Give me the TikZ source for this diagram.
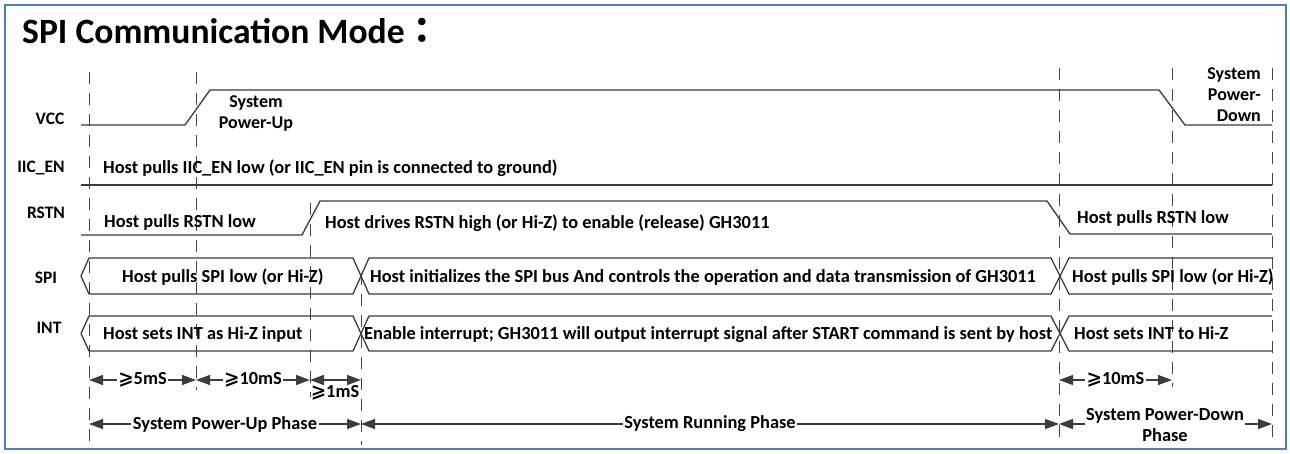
\documentclass[tikz,border=0pt]{standalone}
\usepackage{fontspec}
\setmainfont{Carlito}
\newfontfamily\cjkfont{Noto Sans CJK TC}
\newfontfamily\symfont{DejaVu Sans}
\usetikzlibrary{arrows.meta}
\definecolor{frameblue}{RGB}{79,129,189}
\definecolor{ink}{RGB}{60,60,60}
\definecolor{guidegray}{RGB}{70,70,70}
\newcommand{\atleast}{{\symfont\bfseries ⩾}}

\begin{document}
\begin{tikzpicture}[x=1pt,y=-1pt,
  wave/.style={draw=ink, line width=1.3pt, line join=miter},
  guideline/.style={draw=guidegray, line width=0.9pt, dash pattern=on 12pt off 9pt},
  sig/.style={font=\bfseries\fontsize{17.5}{20}\selectfont, inner sep=0pt, anchor=base},
  note/.style={font=\bfseries\fontsize{18.4}{20}\selectfont, inner sep=0pt, anchor=base west},
  span/.style={draw=ink, line width=1.3pt, {Triangle[length=14pt,width=10pt]}-{Triangle[length=14pt,width=10pt]}},
  spanlbl/.style={font=\bfseries\fontsize{18.4}{21}\selectfont, fill=white, inner sep=1.5pt},
  event/.style={font=\bfseries\fontsize{18}{21}\selectfont, inner sep=0pt},
]
% canvas and frame
\path[use as bounding box, fill=white] (0,0) rectangle (1290,453);
\draw[draw=frameblue, line width=2.2pt] (5,5) rectangle (1286,449);

\node[anchor=base west, inner sep=0pt, font=\bfseries\fontsize{35.6}{38}\selectfont] (title) at (22,43)
  {SPI Communication Mode{\cjkfont\bfseries ：}};

% time markers
\coordinate (g1t) at (89,72);   \coordinate (g1b) at (89,445);
\coordinate (g2t) at (196,72);  \coordinate (g2b) at (196,390);
\coordinate (g3t) at (310,203); \coordinate (g3b) at (310,397);
\coordinate (g4t) at (361,273); \coordinate (g4b) at (361,445);
\coordinate (g5t) at (1059,68); \coordinate (g5b) at (1059,445);
\coordinate (g6t) at (1172,68); \coordinate (g6b) at (1172,387);
\coordinate (g7t) at (1272,68); \coordinate (g7b) at (1272,445);
\foreach \g in {1,...,7} \draw[guideline] (g\g t) -- (g\g b);

% signal names
\node[sig] (vcc)   at (50,124) {VCC};
\node[sig] (iicen) at (41,172) {IIC\_EN};
\node[sig] (rstn)  at (46,218) {RSTN};
\node[sig] (spi)   at (46,283) {SPI};
\node[sig] (int)   at (49,333) {INT};

% VCC
\draw[wave] (81,125) -- (185,125) -- (210,90) -- (1159,90) -- (1185,125) -- (1272,125);
\node[event, align=center] (pwrup) at (256,114) {System\\Power-Up};
\node[event, align=right, anchor=east] (pwrdn) at (1261,95) {System\\Power-\\Down};

% IIC_EN
\draw[wave] (81,185) -- (1272,185);
\node[note] (iictxt) at (103,173) {Host pulls IIC\_EN low (or IIC\_EN pin is connected to ground)};

% RSTN
\draw[wave] (81,235) -- (302,235) -- (320,201) -- (1047,201) -- (1070,234) -- (1272,234);
\node[note] (rst1) at (104,227) {Host pulls RSTN low};
\node[note] (rst2) at (325,228) {Host drives RSTN high (or Hi-Z) to enable (release) GH3011};
\node[note] (rst3) at (1077,223) {Host pulls RSTN low};

% SPI bus
\draw[wave] (81,276) -- (89,258) -- (353,258) -- (369,294) -- (1051,294) -- (1069,258) -- (1272,258);
\draw[wave] (81,276) -- (89,294) -- (353,294) -- (369,258) -- (1051,258) -- (1069,294) -- (1272,294);
\node[note] (spi1) at (122,282) {Host pulls SPI low (or Hi-Z)};
\node[note] (spi2) at (370,282) {Host initializes the SPI bus And controls the operation and data transmission of GH3011};
\node[note] (spi3) at (1072,282) {Host pulls SPI low (or Hi-Z)};

% INT bus
\draw[wave] (81,333.5) -- (89,316) -- (353,316) -- (369,351) -- (1051,351) -- (1069,316) -- (1272,316);
\draw[wave] (81,333.5) -- (89,351) -- (353,351) -- (369,316) -- (1051,316) -- (1069,351) -- (1272,351);
\node[note] (int1) at (103,339) {Host sets INT as Hi-Z input};
\node[note] (int2) at (364,339) {Enable interrupt; GH3011 will output interrupt signal after START command is sent by host};
\node[note] (int3) at (1074,339) {Host sets INT to Hi-Z};

% timing requirements
\coordinate (r1) at (0,380);
\coordinate (r2) at (0,424);
\draw[span] (g1t |- r1) -- node[spanlbl] (t1) {\atleast5mS} (g2t |- r1);
\draw[span] (g2t |- r1) -- node[spanlbl] (t2) {\atleast10mS} (g3t |- r1);
\draw[span] (g3t |- r1) -- (g4t |- r1);
\node[spanlbl, fill=none, inner sep=0pt, anchor=base] (t3) at (335,397) {\atleast1mS};
\draw[span] (g5t |- r1) -- node[spanlbl] (t4) {\atleast10mS} (g6t |- r1);

% phases
\draw[span] (g1t |- r2) -- node[spanlbl] (p1) {System Power-Up Phase} (g4t |- r2);
\draw[span] (g4t |- r2) -- node[spanlbl] (p2) {System Running Phase} (g5t |- r2);
\draw[span] (g5t |- r2) -- (g7t |- r2);
\node[spanlbl, align=center, inner sep=1pt] (p3) at (1165,425) {System Power-Down\\Phase};
\end{tikzpicture}
\end{document}
